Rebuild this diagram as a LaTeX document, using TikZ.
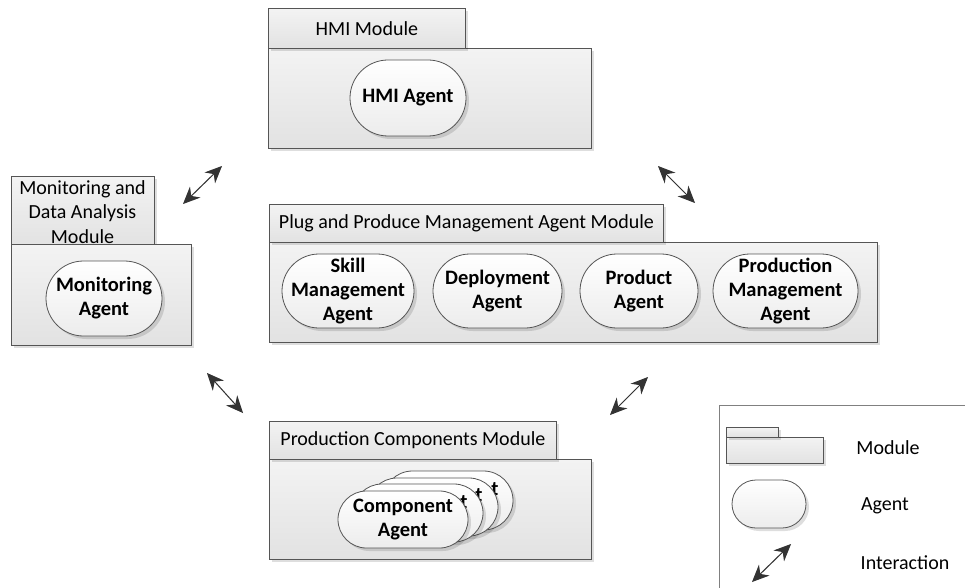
\documentclass[tikz,border=0pt]{standalone}
\usepackage{fontspec}
\setmainfont{Carlito}
\usetikzlibrary{shadows,arrows.meta}
\definecolor{edge}{HTML}{555555}
\definecolor{modtop}{HTML}{F3F3F3}
\definecolor{modbot}{HTML}{E2E2E2}
\definecolor{agbot}{HTML}{ECECEC}
\definecolor{arr}{HTML}{333333}
\definecolor{arrsh}{HTML}{D8D8D8}
\tikzset{
  sh/.style={drop shadow={shadow xshift=3pt,shadow yshift=-3pt,fill=black,opacity=0.13}},
  modbox/.style={draw=edge, line width=0.8pt, top color=modtop, bottom color=modbot, sh,
    inner sep=0pt, anchor=north west, align=center,
    font=\fontsize{20}{24.5}\selectfont},
  agent/.style={draw=edge, line width=0.8pt, top color=white, bottom color=agbot, sh,
    inner sep=0pt, align=center, font=\fontsize{20.5}{24}\selectfont\bfseries},
  tpart/.style={inner sep=0pt, font=\fontsize{20.5}{24}\selectfont\bfseries},
  lbl/.style={inner sep=0pt, align=center, font=\fontsize{20}{24.5}\selectfont},
  inter/.style={draw=arr, line width=1pt, {Stealth[length=17pt,width=15pt]}-{Stealth[length=17pt,width=15pt]}},
  intersh/.style={draw=arrsh, line width=1pt, {Stealth[length=17pt,width=15pt]}-{Stealth[length=17pt,width=15pt]}, shift={(2.5,2.5)}},
}
\begin{document}
\begin{tikzpicture}[x=1pt,y=-1pt]
\useasboundingbox (0,0) rectangle (965,588);

% HMI module
\node[modbox, minimum width=323, minimum height=100] (hmibody) at (268,48) {};
\node[modbox, minimum width=197, minimum height=40] (hmitab) at (268,8) {HMI Module};
\node[agent, minimum width=116, minimum height=76, rounded corners=38] (hmiag) at (408,98) {HMI Agent};

% Monitoring module
\node[modbox, minimum width=143, minimum height=69] (montab) at (11,176) {};
\node[lbl] (montext) at (82.5,212) {Monitoring and\\Data Analysis\\Module};
\node[modbox, minimum width=180, minimum height=101] (monbody) at (11,244) {};
\node[agent, minimum width=116, minimum height=75, rounded corners=37.5] (monag) at (104,298.5) {Monitoring\\Agent};

% Plug and Produce module
\node[modbox, minimum width=608, minimum height=100] (ppbody) at (269,242) {};
\node[modbox, minimum width=394, minimum height=38] (pptab) at (269,204) {Plug and Produce Management Agent Module};
\node[agent, minimum width=132, minimum height=74, rounded corners=37] (skill) at (348,291) {Skill\\Management\\Agent};
\node[agent, minimum width=129, minimum height=74, rounded corners=37] (deploy) at (497.5,291) {Deployment\\Agent};
\node[agent, minimum width=118, minimum height=74, rounded corners=37] (product) at (639,291) {Product\\Agent};
\node[agent, minimum width=145, minimum height=74, rounded corners=37] (prodman) at (785.5,291) {Production\\Management\\Agent};

% Production components module
\node[modbox, minimum width=322, minimum height=100] (pcbody) at (269,459) {};
\node[modbox, minimum width=287, minimum height=38] (pctab) at (269,421) {Production Components Module};
\node[agent, minimum width=130, minimum height=59, rounded corners=29.5] (comp4) at (448,500.5) {};
\node[tpart] (t4) at (495,489) {t};
\node[agent, minimum width=130, minimum height=58, rounded corners=29] (comp3) at (433,507) {};
\node[tpart] (t3) at (479,495) {t};
\node[agent, minimum width=130, minimum height=58, rounded corners=29] (comp2) at (418,513) {};
\node[tpart] (t2) at (464,502) {t};
\node[agent, minimum width=130, minimum height=57, rounded corners=28.5] (comp1) at (403,519.5) {Component\\Agent};

% Interaction arrows
\coordinate (a1s) at (183,204); \coordinate (a1e) at (222,166);
\coordinate (a2s) at (658,166); \coordinate (a2e) at (695,203);
\coordinate (a3s) at (207,373); \coordinate (a3e) at (243,413);
\coordinate (a4s) at (610,415); \coordinate (a4e) at (648,377);
\foreach \s/\e in {a1s/a1e,a2s/a2e,a3s/a3e,a4s/a4e}{
  \draw[intersh] (\s) -- (\e);
  \draw[inter] (\s) -- (\e);
}

% Legend
\node[draw=gray, line width=0.8pt, fill=white, inner sep=0pt, anchor=north west,
  minimum width=245.5, minimum height=182.5] (legend) at (719,405) {};
\node[modbox, minimum width=97, minimum height=26] (lgbody) at (726,437) {};
\node[modbox, minimum width=52, minimum height=10] (lgtab) at (726,427) {};
\node[agent, minimum width=74, minimum height=48, rounded corners=24] (lgag) at (769,504) {};
\coordinate (l1s) at (752,582); \coordinate (l1e) at (791,544);
\draw[intersh] (l1s) -- (l1e);
\draw[inter] (l1s) -- (l1e);
\node[lbl] (lgmod) at (888,448) {Module};
\node[lbl] (lgagt) at (885,506) {Agent};
\node[lbl] (lgint) at (905,563) {Interaction};
\end{tikzpicture}
\end{document}
